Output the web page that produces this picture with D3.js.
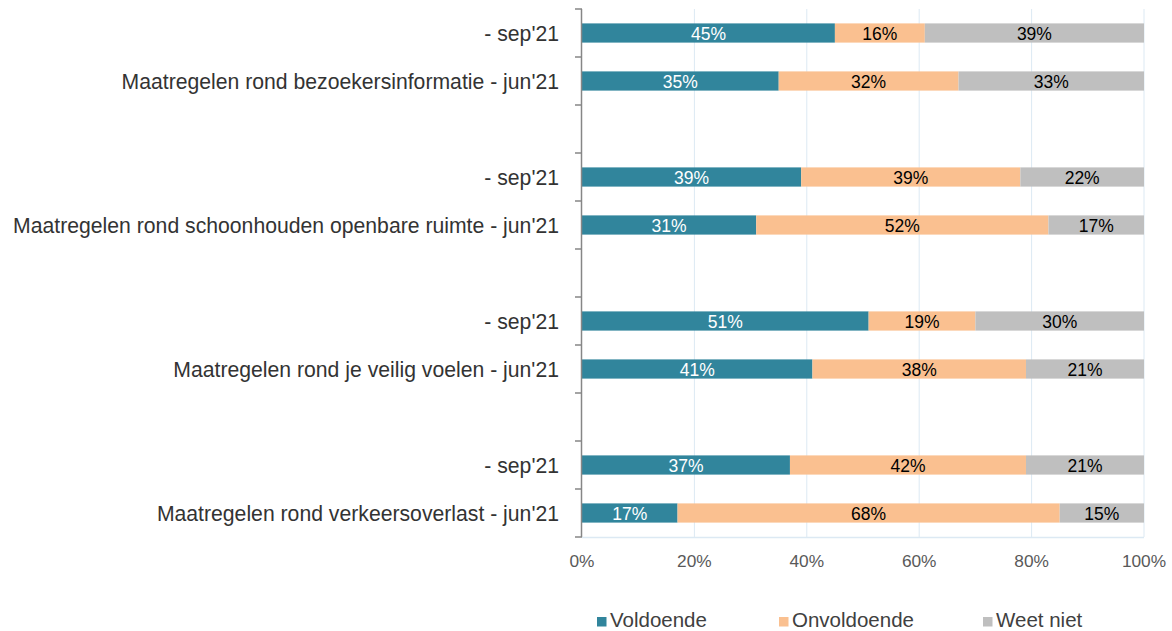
<!DOCTYPE html>
<html><head><meta charset="utf-8">
<script src="https://cdn.jsdelivr.net/npm/d3@7/dist/d3.min.js"></script>
<style>body{margin:0;background:#fff}svg{display:block;font-family:"Liberation Sans",Arial,sans-serif}</style>
</head><body>
<svg id="c" width="1172" height="631"></svg>
<script>
const rowKeys = ["r1","r2","g1","r3","r4","g2","r5","r6","g3","r7","r8"];
const rowLabels = ["- sep'21","Maatregelen rond bezoekersinformatie - jun'21","","- sep'21","Maatregelen rond schoonhouden openbare ruimte - jun'21","","- sep'21","Maatregelen rond je veilig voelen - jun'21","","- sep'21","Maatregelen rond verkeersoverlast - jun'21"];
const seriesNames = ["Voldoende","Onvoldoende","Weet niet"];
const voldoende   = [45,35,null,39,31,null,51,41,null,37,17];
const onvoldoende = [16,32,null,39,52,null,19,38,null,42,68];
const weetNiet    = [39,33,null,22,17,null,30,21,null,21,15];
const xTicks = [0,20,40,60,80,100];
const colors = ["#31859c","#fac090","#bfbfbf"];
const textColors = ["#ffffff","#000000","#000000"];

const svg = d3.select("#c");
const m = {left:582, right:1144, top:9, bottom:537};
const x = d3.scaleLinear().domain([0,100]).range([m.left,m.right]);
const y = d3.scaleBand().domain(rowKeys).range([m.top,m.bottom]).paddingInner(0.6).paddingOuter(0.3);
const yb = d3.scaleBand().domain(rowKeys).range([m.top,m.bottom]);

// gridlines
svg.append("g").selectAll("line").data(xTicks.filter(d=>d>0)).join("line")
  .attr("x1",d=>x(d)).attr("x2",d=>x(d)).attr("y1",m.top).attr("y2",m.bottom)
  .attr("stroke","#dce9f3").attr("stroke-width",1);
svg.append("line").attr("x1",m.left).attr("x2",m.right).attr("y1",m.bottom+0.5).attr("y2",m.bottom+0.5)
  .attr("stroke","#dce9f3").attr("stroke-width",1.5);

// data rows
const data = rowKeys.map((k,i)=>({key:k, vals:[voldoende[i],onvoldoende[i],weetNiet[i]]})).filter(d=>d.vals[0]!=null);
data.forEach(d=>{
  let acc=0;
  d.segs = d.vals.map((v,j)=>{const s={x0:acc,x1:acc+v,v:v,j:j};acc+=v;return s;});
});
const rows = svg.append("g").selectAll("g").data(data).join("g");
rows.selectAll("rect").data(d=>d.segs.map(s=>({...s,key:d.key}))).join("rect")
  .attr("x",s=>x(s.x0)).attr("width",s=>x(s.x1)-x(s.x0))
  .attr("y",s=>y(s.key)).attr("height",y.bandwidth())
  .attr("fill",s=>colors[s.j]);
rows.selectAll("text").data(d=>d.segs.map(s=>({...s,key:d.key}))).join("text")
  .attr("x",s=>(x(s.x0)+x(s.x1))/2).attr("y",s=>y(s.key)+y.bandwidth()/2)
  .attr("dy","0.42em").attr("text-anchor","middle").attr("font-size",17.5)
  .attr("fill",s=>textColors[s.j]).text(s=>s.v+"%");

// y axis
const ya = svg.append("g");
ya.append("line").attr("x1",m.left-0.5).attr("x2",m.left-0.5).attr("y1",m.top).attr("y2",m.bottom)
  .attr("stroke","#868686").attr("stroke-width",1.5);
const bounds = rowKeys.map(k=>yb(k)).concat([m.bottom]);
ya.selectAll("line.t").data(bounds).join("line").attr("class","t")
  .attr("x1",m.left-7).attr("x2",m.left).attr("y1",d=>d).attr("y2",d=>d)
  .attr("stroke","#868686").attr("stroke-width",1.5);
ya.selectAll("text").data(rowKeys).join("text")
  .attr("x",559).attr("y",k=>y(k)+y.bandwidth()/2).attr("dy","0.36em")
  .attr("text-anchor","end").attr("font-size",21.2).attr("fill","#333")
  .text((k,i)=>rowLabels[i]);

// x axis labels
svg.append("g").selectAll("text").data(xTicks).join("text")
  .attr("x",d=>x(d)).attr("y",567).attr("text-anchor","middle").attr("font-size",17.3)
  .attr("fill","#595959").text(d=>d+"%");

// legend
const legX = [597,779,983];
const lg = svg.append("g").selectAll("g").data(seriesNames).join("g")
  .attr("transform",(d,i)=>`translate(${legX[i]},0)`);
lg.append("rect").attr("width",9.5).attr("height",9.5).attr("y",617).attr("fill",(d,i)=>colors[i]);
lg.append("text").attr("x",13).attr("y",626.5).attr("font-size",20.5)
  .attr("fill","#404040").text(d=>d);
</script>
</body></html>
